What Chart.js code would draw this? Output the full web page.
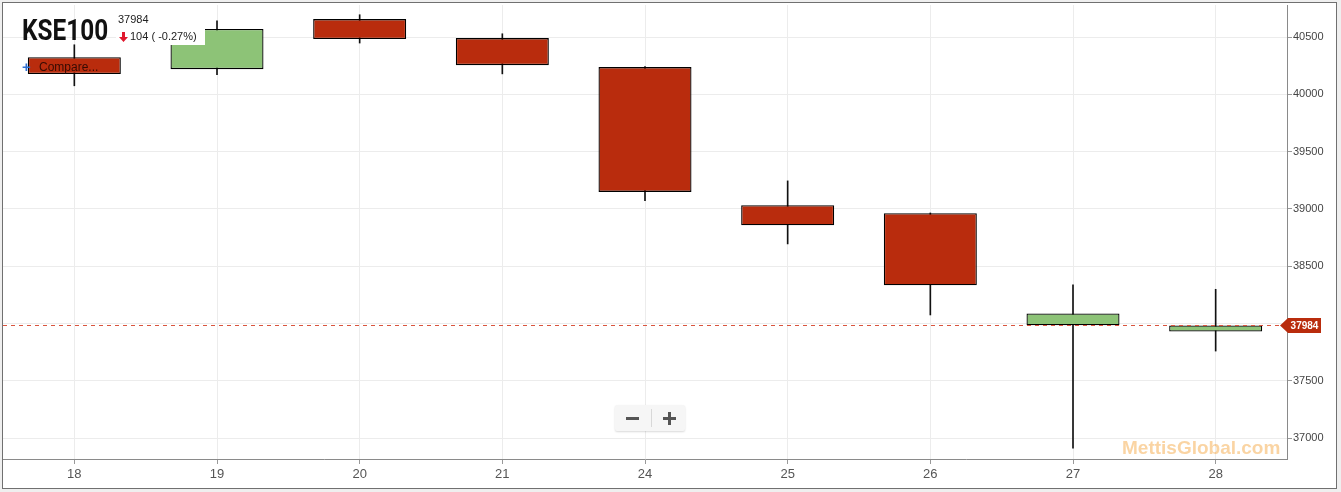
<!DOCTYPE html>
<html>
<head>
<meta charset="utf-8">
<script src="https://cdn.jsdelivr.net/npm/chart.js@4.4.1/dist/chart.umd.min.js"></script>
<style>
  html, body { margin:0; padding:0; background:#efefef; width:1341px; height:492px; overflow:hidden; font-family:"Liberation Sans", Arial, sans-serif; }
  #frame { position:absolute; left:2px; top:2px; width:1333px; height:485px; border:1px solid #707070; background:#fff; }
  #c { position:absolute; left:0; top:0; }
  .ov { position:absolute; white-space:nowrap; }
  #title { left:19px; top:10px; font-family:Roboto, sans-serif; font-weight:700; font-size:29px; color:#111; transform:scaleX(0.84); transform-origin:left top; line-height:34px; }
  #last { left:115px; top:10px; font-size:11px; color:#222; line-height:13px; }
  #chg { left:113px; top:25px; width:89px; height:17px; background:#fff; font-size:11px; color:#222; line-height:17px; }
  #chg svg { position:absolute; left:3px; top:4px; }
  #chg span { position:absolute; left:14px; top:0; }
  #cmpPlus { left:19px; top:56px; font-size:15px; font-weight:700; color:#2f6fd1; line-height:16px; }
  #cmp { left:36px; top:57px; font-size:12px; color:rgba(40,8,2,0.9); line-height:14px; }
  #zoom { left:612px; top:402px; width:70px; height:26px; background:#f6f6f6; box-shadow:0 1px 2px rgba(0,0,0,0.15); border-radius:2px; }
  #zoom .d { position:absolute; left:36px; top:4px; width:1px; height:18px; background:#d8d8d8; }
  #zoom .m { position:absolute; left:11px; top:12px; width:13px; height:3px; background:#555; }
  #zoom .p1 { position:absolute; left:48px; top:12px; width:13px; height:3px; background:#555; }
  #zoom .p2 { position:absolute; left:53px; top:7px; width:3px; height:13px; background:#555; }
  #wm { left:1119px; top:434px; font-size:19px; font-weight:700; color:rgba(245,160,50,0.45); line-height:22px; }
</style>
</head>
<body>
<div id="frame">
  <canvas id="c" width="1333" height="485"></canvas>
  <div class="ov" id="title">KSE100</div>
  <div class="ov" id="last">37984</div>
  <div class="ov" id="chg"><svg width="9" height="10" viewBox="0 0 9 10"><path d="M3 0 H6 V5 H9 L4.5 10 L0 5 H3 Z" fill="#e0182d"/></svg><span>104 ( -0.27%)</span></div>
  <div class="ov" id="cmpPlus">+</div>
  <div class="ov" id="cmp">Compare...</div>
  <div class="ov" id="zoom"><div class="m"></div><div class="d"></div><div class="p1"></div><div class="p2"></div></div>
  <div class="ov" id="wm">MettisGlobal.com</div>
</div>
<script>
const labels = ['18','19','20','21','24','25','26','27','28'];
const openV  = [40325, 40220, 40657, 40491, 40238, 39033, 38963, 37985, 37930];
const highV  = [40433, 40642, 40695, 40529, 40243, 39245, 38965, 38337, 38299];
const lowV   = [40075, 40171, 40448, 40179, 39073, 38695, 38075, 36913, 37760];
const closeV = [40177, 40570, 40483, 40255, 39149, 38858, 38334, 38088, 37984];
const yTicks = [37000, 37500, 38000, 38500, 39000, 39500, 40000, 40500];
const yTickLabels = ['37000','37500','','38500','39000','39500','40000','40500'];

const UP = '#8dc377', DOWN = '#b92c0d';
const lastPrice = closeV[closeV.length - 1];

const lastPricePlugin = {
  id: 'lastPrice',
  afterDatasetsDraw(chart) {
    const {ctx, chartArea, scales} = chart;
    const yi = Math.round(scales.y.getPixelForValue(lastPrice));
    const y = yi + 0.5;
    ctx.save();
    ctx.fillStyle = '#d9553f';
    for (let x = chartArea.left; x < chartArea.right - 6; x += 8) {
      ctx.fillRect(x, yi, 4, 1);
    }
    const x0 = chartArea.right - 7;
    const x1 = chartArea.right + 34;
    const h = 15;
    ctx.fillStyle = DOWN;
    ctx.beginPath();
    ctx.moveTo(x0, y);
    ctx.lineTo(x0 + 8, y - h/2);
    ctx.lineTo(x1, y - h/2);
    ctx.lineTo(x1, y + h/2);
    ctx.lineTo(x0 + 8, y + h/2);
    ctx.closePath();
    ctx.fill();
    ctx.fillStyle = '#fff';
    ctx.font = 'bold 10px "Liberation Sans", Arial, sans-serif';
    ctx.textAlign = 'center';
    ctx.textBaseline = 'middle';
    ctx.fillText(String(lastPrice), (x0 + 8 + x1) / 2, y + 0.5);
    ctx.restore();
  }
};

new Chart(document.getElementById('c'), {
  type: 'bar',
  data: {
    labels,
    datasets: [
      {
        label: 'wick',
        data: labels.map((_, i) => [lowV[i], highV[i]]),
        backgroundColor: '#111',
        borderWidth: 0,
        barThickness: 1,
        grouped: false,
        order: 2
      },
      {
        label: 'body',
        data: labels.map((_, i) => [openV[i], closeV[i]]),
        backgroundColor: labels.map((_, i) => closeV[i] >= openV[i] ? UP : DOWN),
        borderColor: '#000',
        borderWidth: 1.3,
        borderSkipped: false,
        barPercentage: 0.652,
        categoryPercentage: 1,
        grouped: false,
        order: 1
      }
    ]
  },
  options: {
    responsive: false,
    animation: false,
    layout: { padding: { top: 2, left: 0, right: 0, bottom: 0 } },
    plugins: { legend: { display: false }, tooltip: { enabled: false } },
    scales: {
      x: {
        offset: true,
        grid: { offset: false, color: '#ececec', tickLength: 5, tickColor: '#999' },
        border: { color: '#8a8a8a' },
        ticks: { color: '#555', font: { family: '"Liberation Sans", Arial, sans-serif', size: 13 }, padding: 3, maxRotation: 0 },
        afterFit(s) { s.height = 29; s.paddingLeft = 0; s.paddingRight = 0; }
      },
      y: {
        position: 'right',
        min: 36818,
        max: 40780,
        afterBuildTicks(s) { s.ticks = yTicks.map(v => ({ value: v })); },
        grid: { color: '#ececec', tickLength: 5, tickColor: '#999' },
        border: { color: '#8a8a8a' },
        ticks: {
          color: '#444',
          font: { family: '"Liberation Sans", Arial, sans-serif', size: 11 },
          padding: 1,
          callback: (v) => yTickLabels[yTicks.indexOf(v)] ?? ''
        },
        afterFit(s) { s.width = 49; s.paddingTop = 0; s.paddingBottom = 0; }
      }
    }
  },
  plugins: [lastPricePlugin]
});
</script>
</body>
</html>
